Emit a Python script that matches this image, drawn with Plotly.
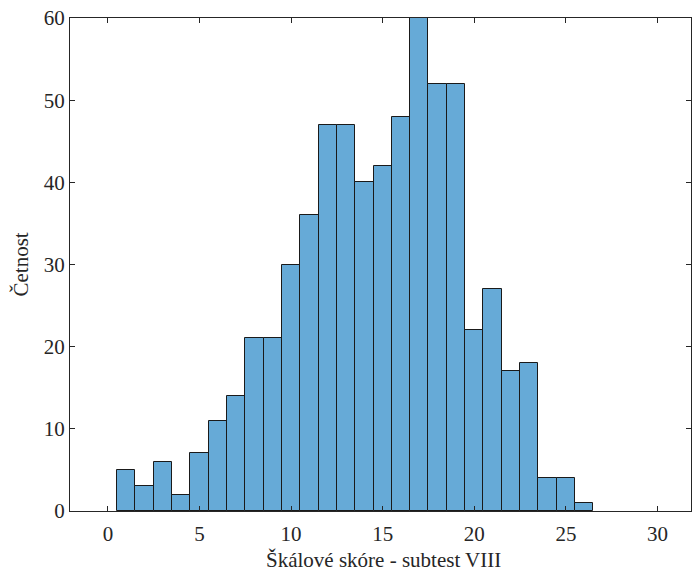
import plotly.graph_objects as go

bin_centers = list(range(1, 27))
counts = [5, 3, 6, 2, 7, 11, 14, 21, 21, 30, 36, 47, 47, 40, 42, 48, 60, 52, 52, 22, 27, 17, 18, 4, 4, 1]
x_ticks = [0, 5, 10, 15, 20, 25, 30]
y_ticks = [0, 10, 20, 30, 40, 50, 60]
x_label = "Škálové skóre - subtest VIII"
y_label = "Četnost"

axis_color = "#262626"
font_family = "Liberation Serif, Times New Roman, serif"
fsize = 21

fig = go.Figure(
    go.Bar(
        x=bin_centers,
        y=counts,
        width=1,
        marker=dict(color="#66AAD7", line=dict(color="#1a1a1a", width=1)),
        hoverinfo="x+y",
    )
)

fig.update_layout(
    width=692,
    height=571,
    margin=dict(l=70, r=1, t=18, b=60, autoexpand=False),
    paper_bgcolor="white",
    plot_bgcolor="white",
    showlegend=False,
    bargap=0,
    font=dict(family=font_family, size=fsize, color=axis_color),
    annotations=[
        dict(text=x_label, xref="paper", yref="paper", x=0.5049, y=0, yshift=-49,
             xanchor="center", yanchor="middle", showarrow=False,
             font=dict(family=font_family, size=fsize, color=axis_color)),
        dict(text=y_label, xref="paper", yref="paper", x=0, xshift=-50, y=0.5,
             xanchor="center", yanchor="middle", showarrow=False, textangle=-90,
             font=dict(family=font_family, size=fsize, color=axis_color)),
    ],
)

fig.update_xaxes(
    range=[-2.07, 31.83],
    tickvals=x_ticks,
    ticks="inside",
    ticklen=5,
    tickwidth=1,
    tickcolor=axis_color,
    showline=True,
    linecolor=axis_color,
    linewidth=1,
    mirror="ticks",
    showgrid=False,
    zeroline=False,
    automargin=False,
    ticklabeloverflow="allow",
    ticklabelstandoff=4,
    tickfont=dict(family=font_family, size=fsize, color=axis_color),
)

fig.update_yaxes(
    range=[0, 60],
    tickvals=y_ticks,
    ticks="inside",
    ticklen=5,
    tickwidth=1,
    tickcolor=axis_color,
    showline=True,
    linecolor=axis_color,
    linewidth=1,
    mirror="ticks",
    showgrid=False,
    zeroline=False,
    automargin=False,
    ticklabeloverflow="allow",
    tickfont=dict(family=font_family, size=fsize, color=axis_color),
)

# remove the default page margin so the figure fills the window exactly
fig.write_html(
    "out.html",
    config={"displayModeBar": False},
    post_script="document.body.style.margin='0';",
)
